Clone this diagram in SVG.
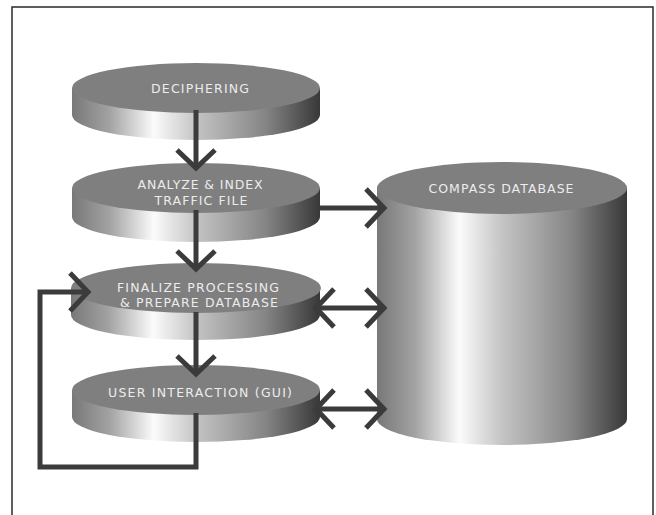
<svg xmlns="http://www.w3.org/2000/svg" width="656" height="515" viewBox="0 0 656 515">
<defs>
<linearGradient id="side" x1="0" y1="0" x2="1" y2="0">
<stop offset="0" stop-color="#787878"/>
<stop offset="0.15" stop-color="#a2a2a2"/>
<stop offset="0.33" stop-color="#fbfbfb"/>
<stop offset="0.5" stop-color="#c4c4c4"/>
<stop offset="0.78" stop-color="#858585"/>
<stop offset="1" stop-color="#383838"/>
</linearGradient>
<marker id="chev" markerUnits="userSpaceOnUse" viewBox="-26 -26 30 52" markerWidth="30" markerHeight="52" refX="0" refY="0" orient="auto-start-reverse">
<path d="M-18,-19 L0,0 L-18,19" fill="none" stroke="#3b3b3b" stroke-width="5" stroke-linejoin="miter"/>
</marker>
<style>
.top{fill:#7f7f7f}
.sd{fill:url(#side)}
.lbl{font-family:"DejaVu Sans","Liberation Sans",sans-serif;font-size:12.5px;fill:#ececec;text-anchor:middle}
.con{fill:none;stroke:#3b3b3b;stroke-width:5}
</style>
</defs>
<rect x="12" y="7" width="641" height="520" fill="#fff" stroke="#2a2a2a" stroke-width="1.5"/>

<g id="cylinder">
<path class="sd" d="M377,188 L377,419 A125,26 0 0 0 627,419 L627,188 Z"/>
<ellipse class="top" cx="502" cy="188" rx="125" ry="26"/>
<text class="lbl" x="501" y="193" textLength="145" lengthAdjust="spacing">COMPASS DATABASE</text>
</g>

<g id="deciphering">
<path class="sd" d="M72,88 L72,115 A124,25 0 0 0 320,115 L320,88 Z"/>
<ellipse class="top" cx="196" cy="88" rx="124" ry="25"/>
<text class="lbl" x="200" y="93" textLength="98" lengthAdjust="spacing">DECIPHERING</text>
</g>

<g id="analyze">
<path class="sd" d="M72,188 L72,217 A124,25 0 0 0 320,217 L320,188 Z"/>
<ellipse class="top" cx="196" cy="188" rx="124" ry="25"/>
<text class="lbl" x="200" y="189" textLength="125" lengthAdjust="spacing">ANALYZE &amp; INDEX</text>
<text class="lbl" x="201" y="205" textLength="93" lengthAdjust="spacing">TRAFFIC FILE</text>
</g>

<g id="finalize">
<path class="sd" d="M71,288 L71,315 A124,25 0 0 0 320,315 L320,288 Z"/>
<ellipse class="top" cx="196" cy="288" rx="125" ry="25"/>
<text class="lbl" x="198" y="292" textLength="162" lengthAdjust="spacing">FINALIZE PROCESSING</text>
<text class="lbl" x="199" y="307" textLength="158" lengthAdjust="spacing">&amp; PREPARE DATABASE</text>
</g>

<g id="user">
<path class="sd" d="M72,390 L72,417 A124,25 0 0 0 320,417 L320,390 Z"/>
<ellipse class="top" cx="196" cy="390" rx="124" ry="25"/>
<text class="lbl" x="200" y="397" textLength="184" lengthAdjust="spacing">USER INTERACTION (GUI)</text>
</g>

<g id="connectors">
<path class="con" d="M196,110 L196,168" marker-end="url(#chev)"/>
<path class="con" d="M196,210 L196,269" marker-end="url(#chev)"/>
<path class="con" d="M196,312 L196,374" marker-end="url(#chev)"/>
<path class="con" d="M196,413 L196,467 L40,467 L40,292 L88,292" marker-end="url(#chev)"/>
<path class="con" d="M320,208 L384,208" marker-end="url(#chev)"/>
<path class="con" d="M316,308 L384,308" marker-start="url(#chev)" marker-end="url(#chev)"/>
<path class="con" d="M316,409 L384,409" marker-start="url(#chev)" marker-end="url(#chev)"/>
</g>
</svg>
